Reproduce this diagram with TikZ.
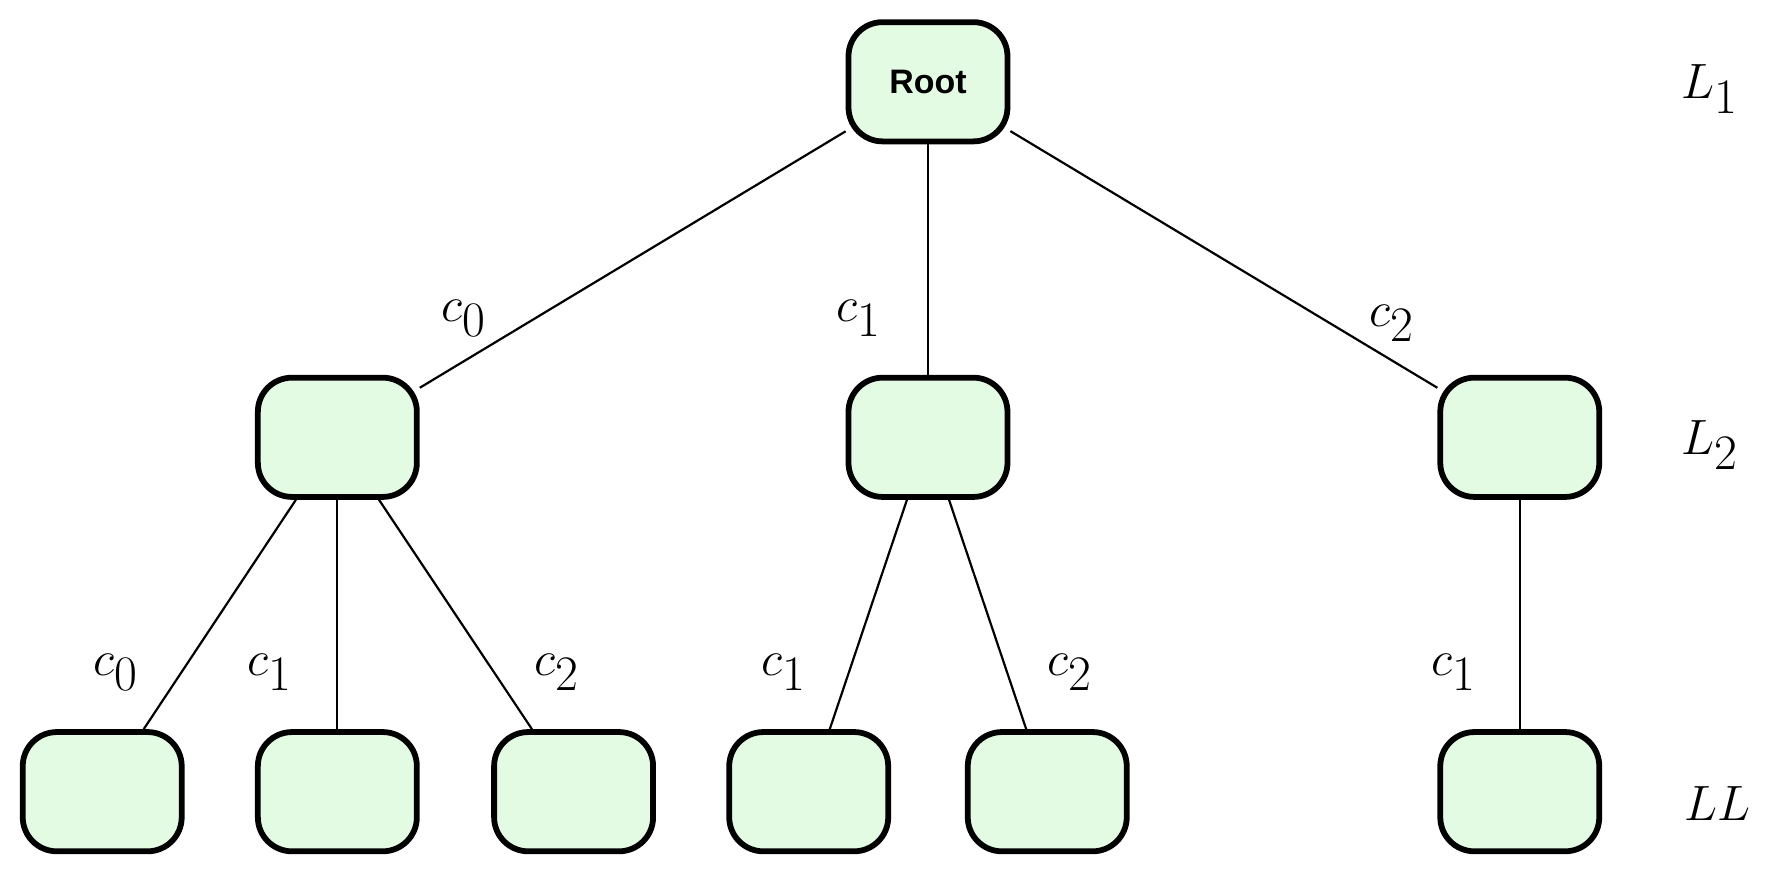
\documentclass[tikz,border=0pt]{standalone}
\usepackage{fontspec}
\newfontfamily\rootfont{Liberation Sans}
\begin{document}
\begin{tikzpicture}[x=0.02cm,y=-0.02cm,
  box/.style={draw=black,line width=2.9pt,rounded corners=0.6cm,fill={rgb,255:red,226;green,251;blue,226},minimum width=2.8cm,minimum height=2.1cm,inner sep=0pt},
  edge/.style={line width=1.1pt},
  lab/.style={font=\fontsize{40}{44}\selectfont},
  lvl/.style={font=\fontsize{44}{48}\selectfont}]
\useasboundingbox (0,0) rectangle (1568,773);
\node[box,font=\rootfont\bfseries\fontsize{17}{20}\selectfont] (r) at (817,72) {Root};
\node[box] (a) at (297,385) {};
\node[box] (b) at (817,385) {};
\node[box] (c) at (1338,385) {};
\node[box] (a0) at (90,697) {};
\node[box] (a1) at (297,697) {};
\node[box] (a2) at (505,697) {};
\node[box] (b1) at (712,697) {};
\node[box] (b2) at (922,697) {};
\node[box] (c1) at (1338,697) {};
\draw[edge] (r) -- (a);
\draw[edge] (r) -- (b);
\draw[edge] (r) -- (c);
\draw[edge] (a) -- (a0);
\draw[edge] (a) -- (a1);
\draw[edge] (a) -- (a2);
\draw[edge] (b) -- (b1);
\draw[edge] (b) -- (b2);
\draw[edge] (c) -- (c1);
\node[lab] (l1) at (408,280) {$c_0$};
\node[lab] (l2) at (756,280) {$c_1$};
\node[lab] (l3) at (1225,285) {$c_2$};
\node[lab] (l4) at (102,592) {$c_0$};
\node[lab] (l5) at (238,592) {$c_1$};
\node[lab] (l6) at (490,592) {$c_2$};
\node[lab] (l7) at (690,592) {$c_1$};
\node[lab] (l8) at (942,592) {$c_2$};
\node[lab] (l9) at (1280,592) {$c_1$};
\node[lvl] (L1) at (1505,78) {$L_1$};
\node[lvl] (L2) at (1505,392) {$L_2$};
\node[lvl] (LL) at (1512,707) {$LL$};
\end{tikzpicture}
\end{document}
